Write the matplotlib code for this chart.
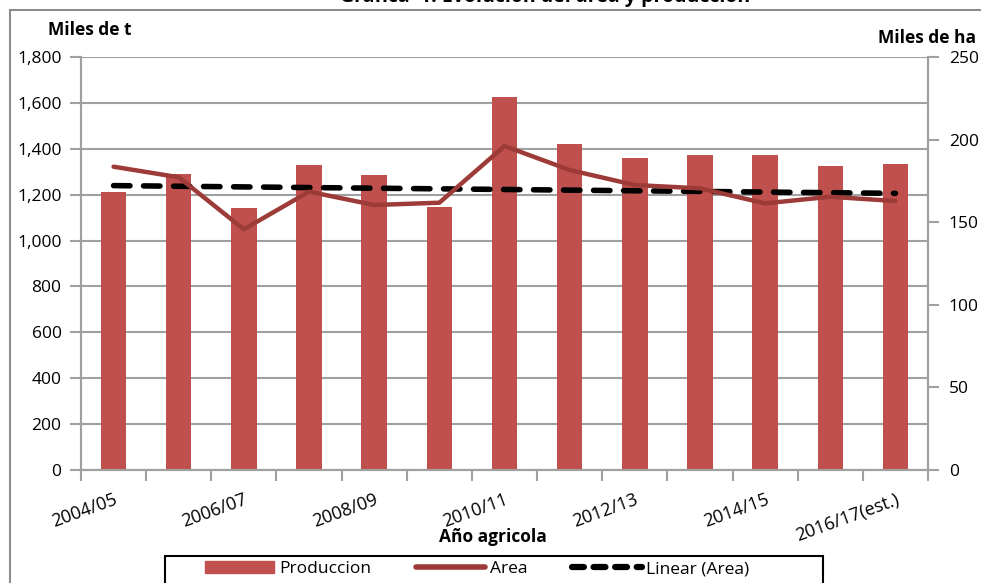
import numpy as np
import matplotlib.pyplot as plt
from matplotlib.patches import Rectangle
from matplotlib.lines import Line2D

plt.rcParams['font.family'] = ['Open Sans', 'DejaVu Sans']

# --- datos ---
campanias = ['2004/05', '2005/06', '2006/07', '2007/08', '2008/09', '2009/10',
             '2010/11', '2011/12', '2012/13', '2013/14', '2014/15', '2015/16',
             '2016/17(est.)']
produccion = [1212, 1290, 1142, 1328, 1284, 1146, 1625, 1422, 1358, 1374, 1374, 1326, 1335]
area = [183.6, 177.2, 145.7, 168.5, 160.4, 161.8, 196.1, 181.6, 172.5, 170.5, 161.4, 165.4, 162.8]

x = np.arange(len(campanias))
coef = np.polyfit(x, area, 1)
tendencia = np.polyval(coef, x)

rojo = '#C0504D'
rojo_osc = '#9C3B38'
gris = '#A0A0A0'

fig = plt.figure(figsize=(9.81, 5.83), dpi=100)
ax = fig.add_axes([81/981, 1-470/583, 847/981, 413/583])
ax2 = ax.twinx()

ax.bar(x, produccion, width=0.39, color=rojo, zorder=3)
ax.set_xlim(-0.5, len(x)-0.5)
ax.set_ylim(0, 1800)
ax.set_yticks(range(0, 1801, 200))
ax.set_yticklabels([f'{v:,}' for v in range(0, 1801, 200)], fontsize=12.5)
ax.grid(axis='y', color=gris, lw=1.5, zorder=0)
ax.set_axisbelow(True)

ax2.plot(x, tendencia, color='black', lw=4, ls=(0, (2.95, 2.45)), dash_capstyle='round', zorder=4)
ax2.plot(x, area, color=rojo_osc, lw=3.2, solid_capstyle='round', zorder=5)
ax2.set_ylim(0, 250)
ax2.set_yticks(range(0, 251, 50))
ax2.set_yticklabels([str(v) for v in range(0, 251, 50)], fontsize=12.5)
ax2.set_zorder(ax.get_zorder()+1)
ax2.patch.set_visible(False)

# ejes estilo excel
for a in (ax, ax2):
    a.spines['top'].set_visible(False)
    for s in ('left', 'right', 'bottom'):
        a.spines[s].set_color(gris)
        a.spines[s].set_linewidth(1.5)
ax.tick_params(axis='y', length=8, width=1.5, color=gris, pad=6)
ax2.tick_params(axis='y', length=8, width=1.5, color=gris, pad=7)

ax.set_xticks(x[::2])
ax.set_xticklabels(campanias[::2], rotation=20, ha='right', va='top',
                   rotation_mode='anchor', fontsize=13)
ax.set_xticks(np.arange(-0.5, len(x), 1), minor=True)
ax.tick_params(axis='x', which='major', length=0, pad=15)
ax.tick_params(axis='x', which='minor', length=8, width=1.5, color=gris)

fig.text(48/981, 1-30/583, 'Miles de t', fontsize=12.5, fontweight='bold', va='center')
fig.text(976/981, 1-38/583, 'Miles de ha', fontsize=12.5, fontweight='bold', va='center', ha='right')
fig.text(493/981, 1-537/583, 'Año agricola', fontsize=12.5, fontweight='bold', va='center', ha='center')
fig.text(545/981, 1+3/583, 'Gráfica  1. Evolución del área y producción', fontsize=14,
         fontweight='bold', va='center', ha='center')

# borde
fig.patches.append(Rectangle((10/981, -0.05), 1.0, 1-10/583+0.05, transform=fig.transFigure,
                             fill=False, edgecolor='#8C8C8C', lw=1.5))

# leyenda
fig.patches.append(Rectangle((165/981, -0.05), (823-165)/981, 0.05+1-556/583,
                             transform=fig.transFigure, fill=False, edgecolor='black', lw=1.5))
handles = [Rectangle((0, 0), 1, 1, color=rojo),
           Line2D([], [], color=rojo_osc, lw=4, solid_capstyle='round'),
           Line2D([], [], color='black', lw=4.5, ls=(0, (1.9, 1.55)), dash_capstyle='round')]
leg = fig.legend(handles, ['Produccion', 'Area', 'Linear (Area)'], loc='center left',
                 bbox_to_anchor=(205/981, 1-569/583), ncol=3, fontsize=12.5, frameon=False,
                 handlelength=4, columnspacing=2.6, handletextpad=0.25, borderpad=0,
                 borderaxespad=0)

fig.savefig('out.png', dpi=100)
